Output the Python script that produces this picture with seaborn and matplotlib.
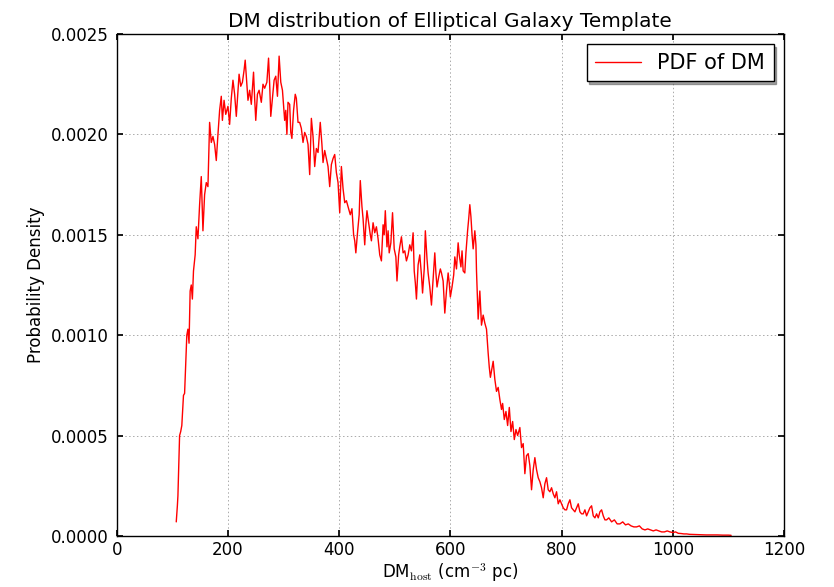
import matplotlib
matplotlib.use("Agg")
import matplotlib.pyplot as plt
import seaborn as sns
import pandas as pd

# Host dispersion measure (cm^-3 pc) and its probability density (in units of 1e-5)
dm_host = [
    107, 109, 110, 112, 113, 115, 117, 120, 122, 124, 126, 128, 130, 132, 134, 136, 138, 141,
    143, 146, 149, 152, 155, 158, 161, 164, 167, 170, 173, 176, 179, 182, 185, 188, 190, 193,
    196, 200, 203, 206, 209, 212, 215, 218, 220, 223, 226, 229, 231, 234, 236, 239, 242, 246,
    248, 250, 253, 256, 260, 263, 266, 270, 273, 275, 277, 280, 283, 286, 289, 292, 295, 298,
    302, 304, 306, 308, 311, 313, 315, 318, 321, 323, 326, 329, 332, 335, 338, 341, 344, 347,
    350, 353, 356, 359, 362, 366, 369, 371, 374, 377, 380, 383, 386, 389, 392, 395, 398, 401,
    404, 407, 410, 413, 416, 420, 423, 426, 428, 430, 433, 436, 438, 441, 443, 446, 448, 450,
    453, 456, 458, 461, 464, 467, 470, 473, 476, 479, 481, 483, 486, 488, 490, 493, 496, 499,
    502, 504, 507, 509, 512, 515, 518, 521, 524, 527, 530, 533, 535, 537, 539, 542, 545, 548,
    550, 553, 555, 558, 560, 563, 566, 569, 572, 574, 576, 579, 582, 584, 587, 590, 593, 596,
    598, 600, 603, 606, 608, 611, 614, 616, 619, 621, 623, 626, 628, 631, 633, 635, 637, 639,
    641, 644, 646, 647, 650, 652, 653, 656, 659, 662, 665, 668, 670, 672, 675, 677, 680, 683,
    686, 689, 692, 694, 697, 700, 703, 706, 709, 712, 715, 718, 721, 725, 728, 731, 734, 737,
    740, 743, 746, 749, 752, 755, 758, 761, 764, 767, 770, 773, 776, 779, 782, 785, 788, 791,
    794, 797, 800, 803, 806, 809, 812, 815, 818, 821, 824, 827, 830, 833, 836, 839, 842, 845,
    848, 851, 854, 857, 860, 863, 866, 869, 872, 875, 878, 881, 885, 890, 895, 900, 905, 910,
    915, 920, 925, 930, 935, 940, 945, 950, 955, 960, 965, 970, 975, 980, 985, 990, 995, 1000,
    1005, 1010, 1015, 1020, 1025, 1030, 1040, 1050, 1060, 1070, 1080, 1090, 1100, 1105,
]
pdf_e5 = [
    7, 15, 20, 40, 50, 52, 55, 70, 71, 85, 100, 103, 96, 122, 125, 118, 132, 140,
    154, 148, 165, 179, 152, 170, 176, 174, 206, 196, 199, 195, 187, 200, 212, 219, 207, 217,
    210, 214, 205, 218, 227, 220, 209, 222, 230, 224, 226, 232, 237, 225, 217, 222, 215, 231,
    218, 207, 220, 222, 216, 225, 223, 226, 238, 225, 209, 218, 227, 229, 219, 239, 226, 222,
    207, 212, 200, 216, 215, 201, 198, 212, 220, 218, 206, 206, 203, 196, 201, 199, 195, 180,
    208, 199, 184, 193, 191, 206, 195, 186, 192, 188, 184, 174, 185, 188, 190, 181, 176, 161,
    184, 173, 166, 167, 164, 160, 163, 150, 147, 141, 151, 160, 177, 164, 158, 145, 155, 162,
    156, 150, 147, 156, 151, 154, 148, 140, 137, 155, 150, 162, 144, 152, 141, 146, 161, 143,
    139, 127, 140, 144, 149, 141, 142, 137, 140, 145, 142, 151, 132, 126, 118, 135, 140, 130,
    121, 133, 152, 138, 131, 124, 115, 128, 141, 131, 124, 129, 133, 131, 127, 111, 122, 131,
    126, 119, 124, 130, 139, 133, 146, 140, 134, 142, 132, 131, 141, 152, 158, 165, 159, 150,
    143, 152, 145, 132, 108, 118, 122, 105, 110, 106, 103, 91, 84, 79, 84, 87, 78, 72,
    74, 68, 63, 66, 58, 62, 55, 64, 52, 57, 48, 53, 50, 54, 44, 46, 31, 40,
    41, 35, 23, 33, 39, 33, 29, 27, 24, 19, 26, 29, 23, 22, 24, 21, 19, 22,
    16, 18, 16, 14, 13, 13, 16, 18, 14, 13, 12, 14, 16, 12, 11, 11, 13, 10,
    12, 14, 15, 10, 9, 11, 9, 12, 13, 10, 8, 8, 9, 7, 8, 6, 6, 7,
    5.5, 6, 5, 4.5, 4.5, 5, 3.5, 3, 3.5, 3, 2.5, 3, 2.5, 2, 2, 2.5, 2, 1.7,
    2, 1.3, 1.2, 1, 1, 0.8, 0.7, 0.6, 0.5, 0.5, 0.5, 0.4, 0.4, 0.3,
]

x_ticks = [0, 200, 400, 600, 800, 1000, 1200]
y_ticks = [0.0, 0.0005, 0.0010, 0.0015, 0.0020, 0.0025]

df = pd.DataFrame({"DM": dm_host, "PDF": [v * 1e-5 for v in pdf_e5]})

sns.set_theme(style="white", rc={
    "axes.edgecolor": "black",
    "axes.linewidth": 1.0,
    "axes.labelcolor": "black",
    "text.color": "black",
    "xtick.color": "black",
    "ytick.color": "black",
    "xtick.direction": "in",
    "ytick.direction": "in",
    "xtick.top": True,
    "ytick.right": True,
    "xtick.major.size": 4,
    "ytick.major.size": 4,
    "xtick.bottom": True,
    "ytick.left": True,
})
plt.rcParams["font.family"] = ["DejaVu Sans"]
plt.rcParams["mathtext.fontset"] = "cm"

fig = plt.figure(figsize=(8.34, 5.87), dpi=100)
ax = fig.add_axes([0.140, 0.087, 0.800, 0.855])

sns.lineplot(data=df, x="DM", y="PDF", ax=ax, color="red", linewidth=1.0,
             estimator=None, sort=False, label="PDF of DM")

ax.set_xlim(0, 1200)
ax.set_ylim(0, 0.0025)
ax.set_xticks(x_ticks)
ax.set_yticks(y_ticks)
ax.set_yticklabels([f"{t:.4f}" for t in y_ticks])
ax.tick_params(axis="x", labelsize=12, pad=4)
ax.tick_params(axis="y", labelsize=12, pad=6)
ax.grid(True, linestyle=(0, (1.5, 2.5)), color="#aaaaaa", linewidth=0.7)

ax.set_title("DM distribution of Elliptical Galaxy Template", fontsize=14.4,
             color="black", pad=5)
ax.set_xlabel(r"DM$_{\mathrm{host}}$ (cm$^{-3}$ pc)", fontsize=12, labelpad=1)
ax.set_ylabel("Probability Density", fontsize=12)

leg = ax.legend(loc="upper right", fontsize=15, frameon=True, shadow=True,
                fancybox=False, handlelength=2.2, borderpad=0.4)
leg.get_frame().set_edgecolor("black")
leg.get_frame().set_linewidth(1.0)

fig.savefig("out.png", dpi=100)
